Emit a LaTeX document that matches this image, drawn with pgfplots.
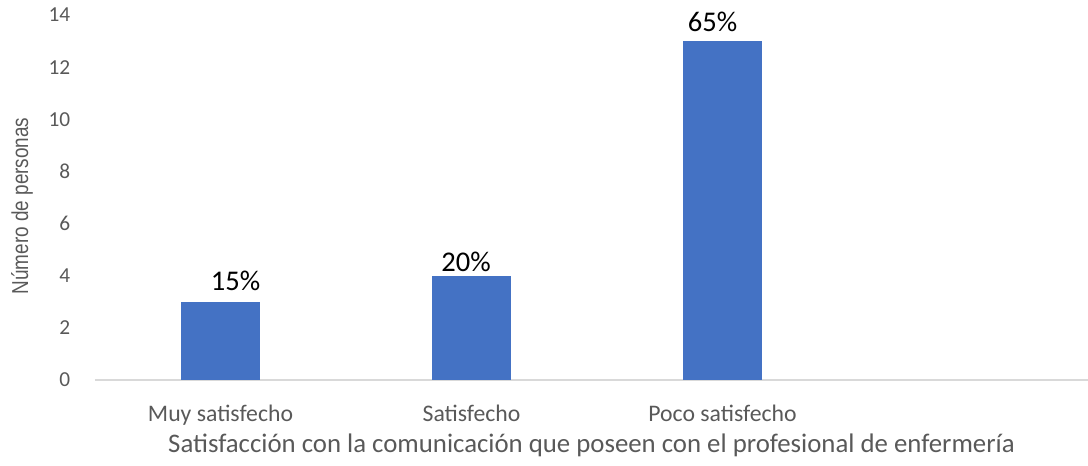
\documentclass[border=0pt]{standalone}
\usepackage{pgfplots}
\pgfplotsset{compat=1.18}
\usepackage{fontspec}
\setmainfont{Carlito}
\newfontfamily\narrowfont[FakeStretch=0.82]{Liberation Sans}
\definecolor{barblue}{HTML}{4472C4}
\definecolor{txtgrey}{HTML}{595959}
\definecolor{axgrey}{HTML}{D9D9D9}
\begin{document}
\begin{tikzpicture}
\begin{axis}[
  scale only axis,
  width=744.75pt, height=273.75pt,
  xmin=-0.5, xmax=3.456,
  ymin=0, ymax=14,
  ytick={0,2,...,14},
  xtick={0,1,2},
  xticklabels={Muy satisfecho,Satisfecho,Poco satisfecho},
  axis x line*=bottom,
  axis y line*=left,
  x axis line style={draw=axgrey, line width=1pt, -},
  y axis line style={draw=none},
  major tick length=0pt,
  yticklabel style={font=\fontsize{16}{16}\selectfont, text=txtgrey, anchor=east, xshift=-15pt},
  xticklabel style={font=\fontsize{17.8}{17.8}\selectfont, text=txtgrey, anchor=base, yshift=-31pt},
  /pgf/number format/assume math mode=true,
  xlabel={Satisfacción con la comunicación que poseen con el profesional de enfermería},
  xlabel style={font=\fontsize{20.1}{20.1}\selectfont, text=txtgrey, anchor=base, at={(axis description cs:0.5,0)}, yshift=-54pt},
  ylabel={Número de personas},
  ylabel style={font=\narrowfont\fontsize{17.3}{17.3}\selectfont, text=txtgrey, anchor=center, at={(axis description cs:-0.0735,0.477)}},
  ybar, bar width=59.3pt, bar shift=0pt,
  nodes near coords,
  point meta=explicit symbolic,
  every node near coord/.append style={font=\fontsize{21.4}{21.4}\selectfont, text=black, anchor=base, inner sep=0pt},
  clip=false,
]
\addplot[fill=barblue, draw=none, every node near coord/.append style={xshift=11.25pt, yshift=8.25pt}] coordinates {(0,3) [15\%]};
\addplot[fill=barblue, draw=none, every node near coord/.append style={xshift=-4.1pt, yshift=3pt}] coordinates {(1,4) [20\%]};
\addplot[fill=barblue, draw=none, every node near coord/.append style={xshift=-7.5pt, yshift=7.1pt}] coordinates {(2,13) [65\%]};
\end{axis}
\pgfresetboundingbox
\path[use as bounding box] (-71.25pt,-63.75pt) rectangle (744.75pt,285pt);
\end{tikzpicture}
\end{document}
